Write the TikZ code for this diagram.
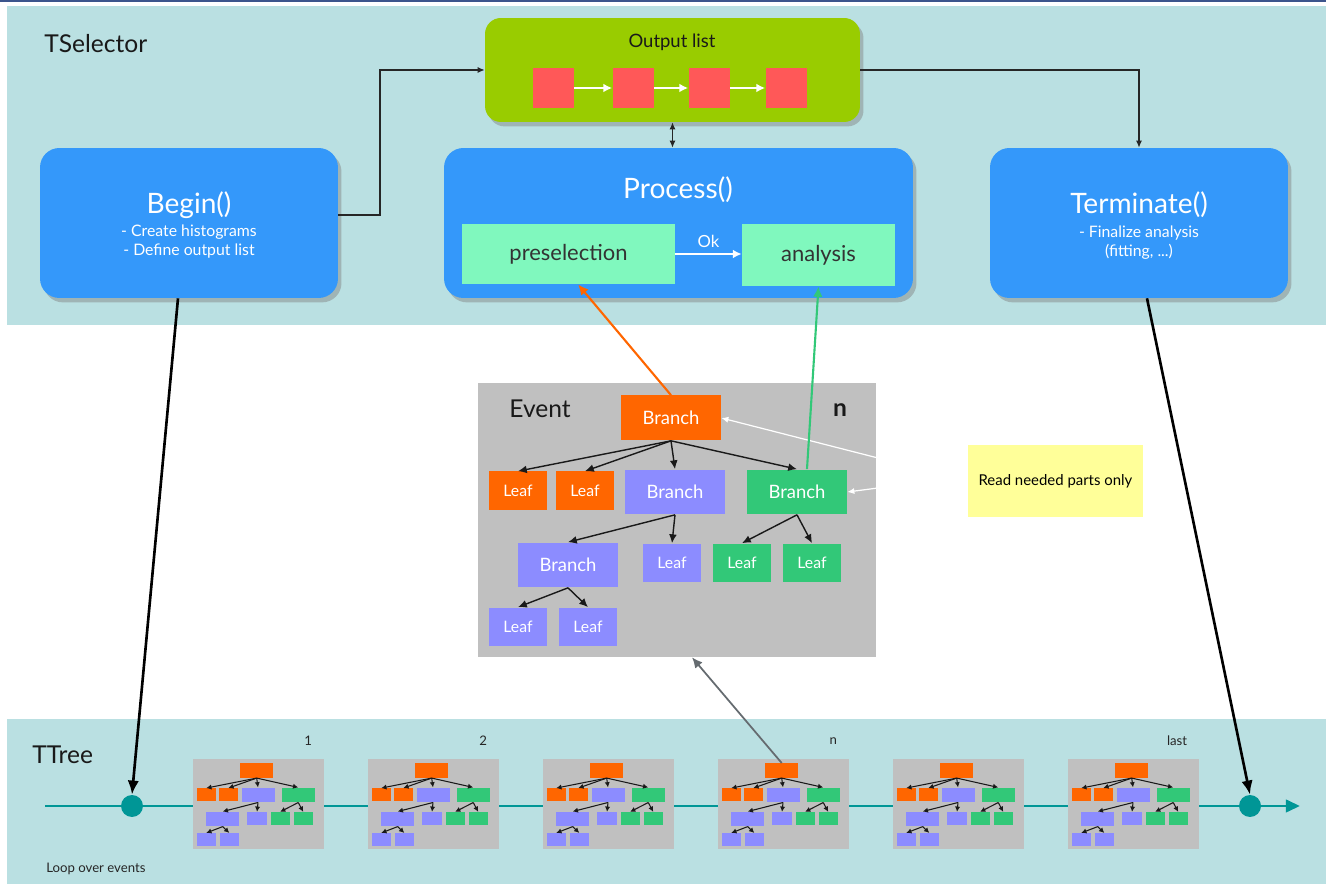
\documentclass[tikz,border=0pt]{standalone}
\usepackage{fontspec}
\setmainfont{Lato}
\usetikzlibrary{arrows.meta,shadows,calc}
\definecolor{panelcyan}{RGB}{186,224,226}
\definecolor{methblue}{RGB}{52,152,250}
\definecolor{listgreen}{RGB}{153,204,0}
\definecolor{objred}{RGB}{255,88,88}
\definecolor{cutmint}{RGB}{128,248,190}
\definecolor{evgray}{RGB}{192,192,192}
\definecolor{brorange}{RGB}{255,102,0}
\definecolor{brpurple}{RGB}{140,140,255}
\definecolor{brgreen}{RGB}{50,200,120}
\definecolor{loopteal}{RGB}{0,150,150}
\definecolor{noteyellow}{RGB}{255,255,153}
\definecolor{frameblue}{RGB}{60,85,140}
\tikzset{
  paneltitle/.style={font=\fontsize{14}{16}\selectfont,text=black!90,inner sep=0pt},
  method/.style={rounded corners=11pt,fill=methblue,
    drop shadow={shadow xshift=2pt,shadow yshift=-2.5pt,opacity=0.45},
    minimum width=5.96cm,minimum height=3cm,inner sep=0pt},
  methtitle/.style={text=white,font=\fontsize{16}{18}\selectfont,inner sep=0pt},
  methsub/.style={text=white,align=center,font=\fontsize{9}{10.8}\selectfont,inner sep=0pt},
  outbox/.style={rounded corners=9pt,fill=listgreen,
    drop shadow={shadow xshift=2pt,shadow yshift=-2.5pt,opacity=0.45},
    minimum width=7.5cm,minimum height=2.08cm},
  objsq/.style={fill=objred,minimum width=0.82cm,minimum height=0.8cm,inner sep=0pt},
  cutbox/.style={fill=cutmint,text=black!80,minimum height=1.2cm,inner sep=0pt,
    font=\fontsize{12.5}{14}\selectfont},
  evbox/.style={fill=evgray,minimum width=7.96cm,minimum height=5.48cm,inner sep=0pt},
  branch/.style={minimum width=2cm,minimum height=0.9cm,inner sep=0pt,text=white,
    font=\fontsize{10.5}{12}\selectfont},
  leaf/.style={minimum width=1.16cm,minimum height=0.78cm,inner sep=0pt,text=white,
    font=\fontsize{9}{11}\selectfont},
  note/.style={fill=noteyellow,minimum width=3.5cm,minimum height=1.44cm,
    font=\fontsize{8.5}{10}\selectfont},
  lbl/.style={font=\fontsize{10.5}{12}\selectfont,text=black!90,inner sep=0pt},
  minilbl/.style={font=\fontsize{7.5}{9}\selectfont,text=black!85,inner sep=0pt},
  thinarr/.style={draw=black!85,line width=0.7pt,-{Latex[length=4pt,width=3.5pt]}},
  whitearr/.style={draw=white,line width=1.3pt,-{Latex[length=5pt,width=5pt]}},
  treearr/.style={draw=black!90,line width=0.8pt,-{Latex[length=5pt,width=4.5pt]}},
  minitreearr/.style={draw=black!90,line width=0.6pt,-{Latex[length=3pt,width=3pt]}},
  readarr/.style={draw=white,line width=0.7pt,-{Latex[length=4pt,width=3.5pt]}},
  thickarr/.style={draw=black,line width=1.5pt,-{Latex[length=8pt,width=6.5pt]}},
  loopline/.style={draw=loopteal,line width=1.7pt,-{Triangle[length=8pt,width=7pt]}},
  loopdot/.style={circle,fill=loopteal,minimum size=0.44cm,inner sep=0pt}
}
\begin{document}
\begin{tikzpicture}[x=0.02cm,y=-0.02cm]
  \useasboundingbox (0,0) rectangle (1326,884);
  \fill[frameblue] (0,0) rectangle (1326,2.5);
  % the two panels
  \fill[panelcyan] (7,6) rectangle (1326,325);
  \fill[panelcyan] (7,719) rectangle (1326,884);
  \node[paneltitle,anchor=west] (tsel) at (44,44) {TSelector};
  \node[paneltitle,anchor=west] (ttree) at (32,755) {TTree};
  \node[minilbl,anchor=west] (loop) at (46,869) {Loop over events};

  % output list
  \node[outbox] (outlist) at (672.5,70) {};
  \node[lbl] (outttl) at (672,42) {Output list};
  \node[objsq] (sq1) at (553,88) {};
  \node[objsq] (sq2) at (633,88) {};
  \node[objsq] (sq3) at (709,88) {};
  \node[objsq] (sq4) at (786,88) {};
  \foreach \a/\b in {sq1/sq2,sq2/sq3,sq3/sq4}
    \draw[whitearr] (\a) -- (\b);

  % selector methods
  \node[method] (begin) at (189,223) {};
  \node[methtitle] (begttl) at (189,205) {Begin()};
  \node[methsub] (begsub) at (189,242) {- Create histograms\\- Define output list};
  \node[method,minimum width=9.38cm] (process) at (678.5,223) {};
  \node[methtitle] (proctitle) at (678,190) {Process()};
  \node[method] (terminate) at (1139,223) {};
  \node[methtitle] (termttl) at (1139,205) {Terminate()};
  \node[methsub] (termsub) at (1139,243) {- Finalize analysis\\(fitting, ...)};
  \node[cutbox,minimum width=4.26cm] (presel) at (568.5,254) {preselection};
  \node[cutbox,minimum width=3.06cm,minimum height=1.24cm] (analysis) at (818.5,255) {analysis};
  \draw[whitearr] (presel.east) -- (presel.east -| analysis.west)
    node[midway,above=3pt,text=white,font=\fontsize{9.5}{11}\selectfont,inner sep=0pt] (ok) {Ok};

  \coordinate (bend) at (380,70);
  \draw[thinarr] ([yshift=0.16cm]begin.east) -| (bend) -- (outlist.west);
  \draw[thinarr] (outlist.east) -| (terminate.north);
  \draw[thinarr,{Latex[length=4pt,width=3.5pt]}-{Latex[length=4pt,width=3.5pt]}]
    (outlist.south) -- (outlist.south |- process.north);

  % one event
  \begin{scope}[shift={(478,383)}]
    \node[evbox] (event) at (199,137) {};
    \node[paneltitle] (evttl) at (62,26) {Event};
    \node[paneltitle,font=\fontsize{14}{16}\selectfont\bfseries] (evn) at (362,27) {n};
    \node[branch,fill=brorange] (bTop) at (193,35) {Branch};
    \node[leaf,fill=brorange] (lO1) at (40,108) {Leaf};
    \node[leaf,fill=brorange] (lO2) at (107,108) {Leaf};
    \node[branch,fill=brpurple] (bPur) at (197,109) {Branch};
    \node[branch,fill=brgreen] (bGreen) at (319,109) {Branch};
    \node[branch,fill=brpurple] (bPur2) at (90,182) {Branch};
    \node[leaf,fill=brpurple] (lP) at (194,180) {Leaf};
    \node[leaf,fill=brgreen] (lG1) at (264,180) {Leaf};
    \node[leaf,fill=brgreen] (lG2) at (334,180) {Leaf};
    \node[leaf,fill=brpurple] (lPb1) at (40,244) {Leaf};
    \node[leaf,fill=brpurple] (lPb2) at (110,244) {Leaf};
  \end{scope}
  \foreach \a/\b in {bTop/lO1,bTop/lO2,bTop/bPur,bTop/bGreen,bPur/bPur2,bPur/lP,
                     bGreen/lG1,bGreen/lG2,bPur2/lPb1,bPur2/lPb2}
    \draw[treearr] (\a.south) -- (\b.north);

  \coordinate (rd1) at (878,458);
  \coordinate (rd2) at (878,488);
  \draw[readarr] (rd1) -- (bTop.east);
  \draw[readarr] (rd2) -- (bGreen.east);
  \draw[draw=brorange,line width=1.2pt,-{Latex[length=6pt,width=5.5pt]}]
    (bTop.north) -- ([xshift=0.19cm]presel.south);
  \draw[draw=brgreen,line width=1.2pt,-{Latex[length=6pt,width=5.5pt]}]
    ([xshift=0.2cm]bGreen.north) -- (analysis.south);

  \node[note] (readnote) at (1055.5,481) {Read needed parts only};

  % loop over the tree
  \coordinate (tlstart) at (45,806);
  \coordinate (tlend) at (1300,806);
  \draw[loopline] (tlstart) -- (tlend);
  \node[loopdot] (c0) at (132,806) {};
  \node[loopdot] (c1) at (1250,806) {};
  \foreach \k/\ox in {1/193,2/368,3/543,4/718,5/893,6/1068}{
    \begin{scope}[shift={(\ox,759)},scale=0.33,transform shape]
      \node[evbox] (m\k) at (199,137) {};
      \node[branch,fill=brorange] (m\k-top) at (193,35) {};
      \node[leaf,fill=brorange] (m\k-lo1) at (40,108) {};
      \node[leaf,fill=brorange] (m\k-lo2) at (107,108) {};
      \node[branch,fill=brpurple] (m\k-bp) at (197,109) {};
      \node[branch,fill=brgreen] (m\k-bg) at (319,109) {};
      \node[branch,fill=brpurple] (m\k-bp2) at (90,182) {};
      \node[leaf,fill=brpurple] (m\k-lp) at (194,180) {};
      \node[leaf,fill=brgreen] (m\k-lg1) at (264,180) {};
      \node[leaf,fill=brgreen] (m\k-lg2) at (334,180) {};
      \node[leaf,fill=brpurple] (m\k-lpb1) at (40,244) {};
      \node[leaf,fill=brpurple] (m\k-lpb2) at (110,244) {};
      \foreach \a/\b in {top/lo1,top/lo2,top/bp,top/bg,bp/bp2,bp/lp,
                         bg/lg1,bg/lg2,bp2/lpb1,bp2/lpb2}
        \draw[minitreearr] (m\k-\a.south) -- (m\k-\b.north);
    \end{scope}
  }
  \foreach \k/\t in {1/1,2/2,4/n,6/last}
    \node[minilbl,anchor=east] (lbl\k) at ([xshift=-0.24cm,yshift=0.36cm]m\k.north east) {\t};

  \draw[draw=gray!80!cyan!60!black,line width=1pt,-{Latex[length=6pt,width=5.5pt]}]
    (m4-top.north) -- ([xshift=0.3cm]event.south);
  \draw[thickarr] ([xshift=-0.22cm]begin.south) -- (c0.north);
  \draw[thickarr] ([xshift=0.16cm]terminate.south) -- (c1.north);
\end{tikzpicture}
\end{document}
